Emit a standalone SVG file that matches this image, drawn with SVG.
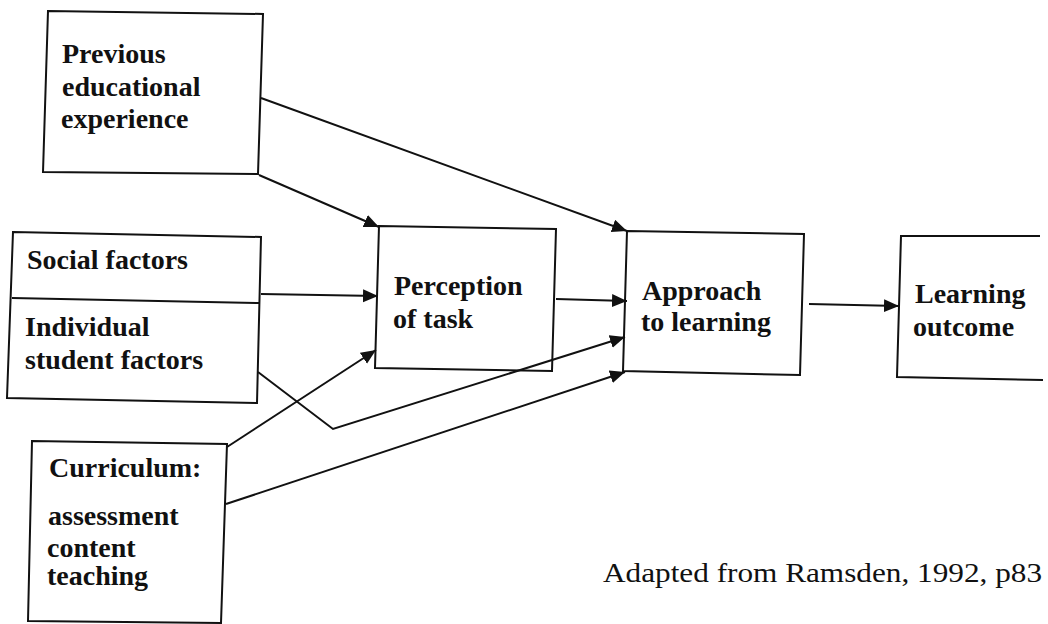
<svg xmlns="http://www.w3.org/2000/svg" width="1048" height="624" viewBox="0 0 1048 624">
  <style>
    .box { fill: #fff; stroke: #111; stroke-width: 2; }
    .edge { fill: none; stroke: #111; stroke-width: 2; }
  </style>
  <defs>
    <marker id="arrow" markerUnits="userSpaceOnUse" markerWidth="16" markerHeight="14" refX="15" refY="6.5" orient="auto">
      <path d="M0,0 L15,6.5 L0,13 z" fill="#111"/>
    </marker>
  </defs>
  <rect width="1048" height="624" fill="#fff"/>

  <!-- Boxes; all labels share one bold serif face -->
  <g font-family="Liberation Serif, Times New Roman, Times, serif" font-weight="bold" font-size="28" fill="#111">
    <g id="node-previous">
      <path class="box" d="M48,11 L263,14 L258,174 L43,172 z"/>
      <text x="62" y="63">Previous</text>
      <text x="62" y="96">educational</text>
      <text x="61" y="128">experience</text>
    </g>

    <g id="node-social-individual">
      <path class="box" d="M13,232 L261,237 L257,403 L7,398 z"/>
      <path class="edge" d="M12,298 L260,303"/>
      <text x="27" y="269">Social factors</text>
      <text x="25" y="336">Individual</text>
      <text x="25" y="369">student factors</text>
    </g>

    <g id="node-curriculum">
      <path class="box" d="M32,441 L227,444 L221,623 L28,621 z"/>
      <text x="49" y="477">Curriculum:</text>
      <text x="48" y="525">assessment</text>
      <text x="47" y="557">content</text>
      <text x="47" y="585">teaching</text>
    </g>

    <g id="node-perception">
      <path class="box" d="M379,226 L556,229 L552,371 L375,368 z"/>
      <text x="394" y="295">Perception</text>
      <text x="393" y="328">of task</text>
    </g>

    <g id="node-approach">
      <path class="box" d="M627,231 L804,234 L800,375 L623,371 z"/>
      <text x="642" y="300">Approach</text>
      <text x="641" y="331">to learning</text>
    </g>

    <g id="node-outcome">
      <path class="edge" d="M1040,236 L901,236 L897,377 L1043,380"/>
      <text x="915" y="303">Learning</text>
      <text x="913" y="336">outcome</text>
    </g>
  </g>

  <!-- Connectors -->
  <g id="connectors" class="edge">
    <path d="M261,98 L627,231" marker-end="url(#arrow)"/>
    <path d="M259,175 L379,227" marker-end="url(#arrow)"/>
    <path d="M261,294 L378,296" marker-end="url(#arrow)"/>
    <path d="M556,299 L627,301" marker-end="url(#arrow)"/>
    <path d="M258,372 L333,429 L625,337" marker-end="url(#arrow)"/>
    <path d="M227,447 L376,350" marker-end="url(#arrow)"/>
    <path d="M226,504 L625,372" marker-end="url(#arrow)"/>
    <path d="M809,304 L899,306" marker-end="url(#arrow)"/>
  </g>

  <text x="603" y="582" font-family="Liberation Serif, Times New Roman, Times, serif" font-size="27" fill="#111" textLength="439" lengthAdjust="spacingAndGlyphs">Adapted from Ramsden, 1992, p83</text>
</svg>
